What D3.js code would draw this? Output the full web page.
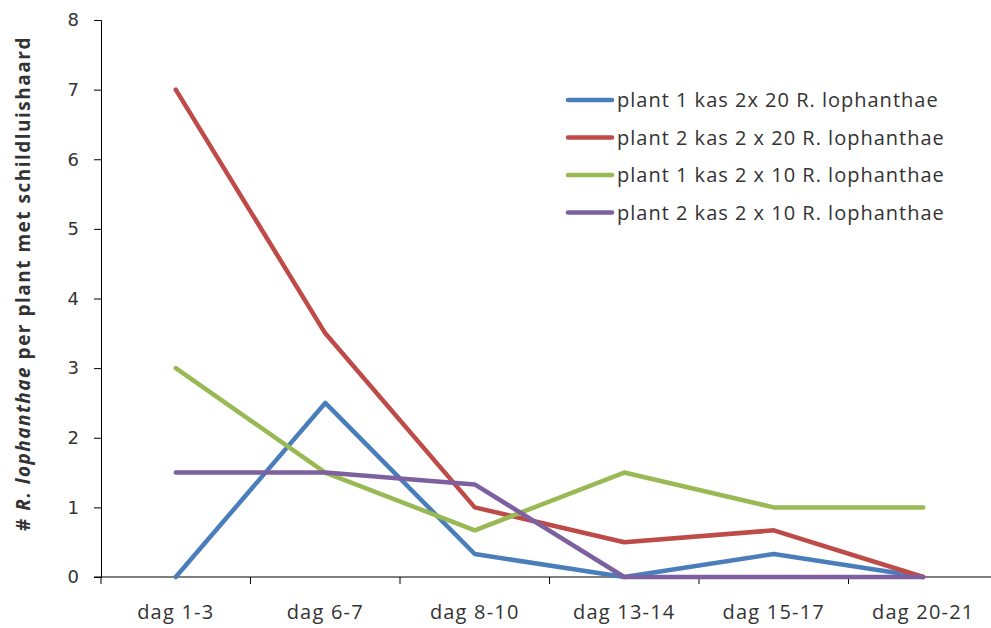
<!DOCTYPE html>
<html>
<head>
<meta charset="utf-8">
<script src="https://cdn.jsdelivr.net/npm/d3@7"></script>
<style>
  body { margin: 0; background: #fff; }
  svg { display: block; }
</style>
</head>
<body>
<svg id="chart" width="991" height="628"></svg>
<script>
// Data
const days = ['dag 1-3', 'dag 6-7', 'dag 8-10', 'dag 13-14', 'dag 15-17', 'dag 20-21'];
const seriesNames = [
    'plant 1 kas 2x 20 R. lophanthae',
    'plant 2 kas 2 x 20 R. lophanthae',
    'plant 1 kas 2 x 10 R. lophanthae',
    'plant 2 kas 2 x 10 R. lophanthae'
];
const plant1kas20 = [0, 2.5, 0.33, 0, 0.33, 0];
const plant2kas20 = [7, 3.5, 1, 0.5, 0.67, 0];
const plant1kas10 = [3, 1.5, 0.67, 1.5, 1, 1];
const plant2kas10 = [1.5, 1.5, 1.33, 0, 0, 0];
const yTicks = [0, 1, 2, 3, 4, 5, 6, 7, 8];
const colors = ['#4a7ebb', '#be4b48', '#98b954', '#7d60a0'];

const series = [plant1kas20, plant2kas20, plant1kas10, plant2kas10]
    .map((values, i) => ({ name: seriesNames[i], values, color: colors[i] }));

const svg = d3.select('#chart');
const plotLeft = 101, plotTop = 20, plotBottom = 577, plotRight = 998;

const x = d3.scaleBand().domain(days).range([plotLeft, plotRight]);
const y = d3.scaleLinear().domain([0, 8]).range([plotBottom, plotTop]);

// Y axis
const yAxis = svg.append('g')
    .attr('transform', `translate(${plotLeft},0)`)
    .call(d3.axisLeft(y).tickValues(yTicks).tickSize(7).tickPadding(15));
yAxis.select('.domain').attr('stroke', '#000');
yAxis.selectAll('.tick line').attr('stroke', '#000');
yAxis.selectAll('text')
    .attr('font-family', 'DejaVu Sans, sans-serif')
    .attr('font-size', 18)
    .attr('fill', '#333');

// X axis: ticks at band boundaries
const xAxis = svg.append('g')
    .attr('transform', `translate(0,${plotBottom})`);
xAxis.append('line')
    .attr('x1', plotLeft - 7).attr('x2', plotRight)
    .attr('stroke', '#000');
const boundaries = days.map(d => x(d)).concat([x(days[days.length - 1]) + x.bandwidth()]);
xAxis.selectAll('.btick')
    .data(boundaries)
    .enter()
    .append('line')
    .attr('x1', d => d).attr('x2', d => d)
    .attr('y1', 0).attr('y2', 7)
    .attr('stroke', '#000');
xAxis.selectAll('.xlabel')
    .data(days)
    .enter()
    .append('text')
    .attr('x', d => x(d) + x.bandwidth() / 2)
    .attr('y', 42)
    .attr('text-anchor', 'middle')
    .attr('font-family', 'Open Sans, sans-serif')
    .attr('font-size', 20)
    .attr('letter-spacing', 1.2)
    .attr('fill', '#333')
    .text(d => d);

// Y axis title
const title = svg.append('text')
    .attr('transform', `translate(30,${(plotTop + plotBottom) / 2 - 15}) rotate(-90)`)
    .attr('text-anchor', 'middle')
    .attr('font-family', 'Open Sans, sans-serif')
    .attr('font-weight', 'bold')
    .attr('font-size', 19)
    .attr('letter-spacing', 1.5)
    .attr('fill', '#333');
title.append('tspan').text('# ');
title.append('tspan').attr('font-style', 'italic').text('R. lophanthae');
title.append('tspan').text(' per plant met schildluishaard');

// Lines
const line = d3.line()
    .x((d, i) => x(days[i]) + x.bandwidth() / 2)
    .y(d => y(d));

svg.selectAll('.series')
    .data(series)
    .enter()
    .append('path')
    .attr('fill', 'none')
    .attr('stroke', d => d.color)
    .attr('stroke-width', 4.5)
    .attr('stroke-linejoin', 'round')
    .attr('stroke-linecap', 'round')
    .attr('d', d => line(d.values));

// Legend
const legend = svg.append('g').attr('transform', 'translate(568,100)');
const item = legend.selectAll('.item')
    .data(series)
    .enter()
    .append('g')
    .attr('transform', (d, i) => `translate(0,${i * 37.5})`);
item.append('line')
    .attr('x1', 0).attr('x2', 44)
    .attr('stroke', d => d.color)
    .attr('stroke-width', 4.5)
    .attr('stroke-linecap', 'round');
item.append('text')
    .attr('x', 49)
    .attr('dy', '0.35em')
    .attr('font-family', 'Open Sans, sans-serif')
    .attr('font-size', 20)
    .attr('letter-spacing', 1)
    .attr('fill', '#333')
    .text(d => d.name);
</script>
</body>
</html>
